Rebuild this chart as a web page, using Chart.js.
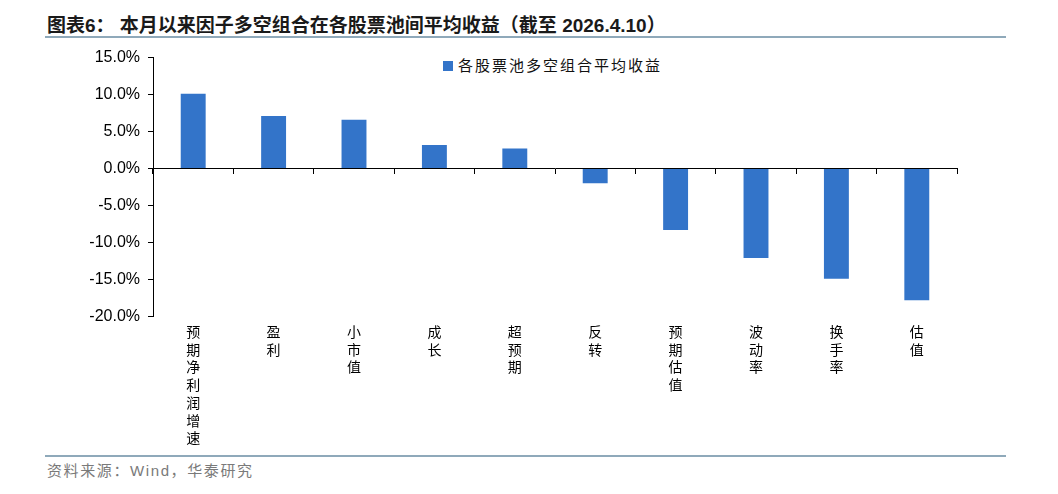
<!DOCTYPE html>
<html>
<head>
<meta charset="utf-8">
<script src="https://cdn.jsdelivr.net/npm/chart.js@4.4.1/dist/chart.umd.min.js"></script>
<style>
    body { margin: 0; background: #fff; width: 1058px; height: 494px; position: relative; overflow: hidden; }
    .title { position: absolute; left: 47px; top: 10px; font: bold 19px "Liberation Sans", "Noto Sans CJK SC", sans-serif; color: #1a1a1a; white-space: nowrap; }
    .rule { position: absolute; left: 45px; width: 961px; height: 2px; background: #8fa9ba; }
    .source { position: absolute; left: 47px; top: 459px; font: 15px "Liberation Sans", "Noto Sans CJK SC", sans-serif; color: #7a7a7a; letter-spacing: 1.6px; }
    .legend { position: absolute; left: 443px; top: 54px; font: 15px "Noto Sans CJK SC", sans-serif; color: #111; letter-spacing: 2px; white-space: nowrap; }
    .legend span { display: inline-block; width: 10px; height: 10px; background: #3374c9; margin-right: 5px; vertical-align: 0px; }
    #wrap { position: absolute; left: 0; top: 40px; width: 1058px; height: 413px; }
</style>
</head>
<body>
<div class="title">图表6： 本月以来因子多空组合在各股票池间平均收益（截至 2026.4.10）</div>
<div class="rule" style="top:36px"></div>
<div class="legend"><span></span>各股票池多空组合平均收益</div>
<div id="wrap"><canvas id="bar-chart"></canvas></div>
<div class="rule" style="top:455px"></div>
<div class="source">资料来源：Wind，华泰研究</div>
<script>
// factor long-short returns across stock pools, %
var categories = ['预期净利润增速', '盈利', '小市值', '成长', '超预期', '反转', '预期估值', '波动率', '换手率', '估值'];
var avgReturns = [10.1, 7.1, 6.6, 3.2, 2.7, -2.0, -8.3, -12.1, -14.9, -17.8];
var seriesName = '各股票池多空组合平均收益';
var yMin = -20, yMax = 15, yStep = 5;

var ctx = document.getElementById('bar-chart').getContext('2d');
new Chart(ctx, {
    type: 'bar',
    data: {
        labels: categories,
        datasets: [{
            label: seriesName,
            data: avgReturns,
            backgroundColor: '#3374c9',
            categoryPercentage: 1,
            barPercentage: 0.31
        }]
    },
    options: {
        responsive: true,
        maintainAspectRatio: false,
        animation: false,
        layout: { padding: { top: 17, right: 101, bottom: 0, left: 0 } },
        plugins: {
            legend: { display: false },
            tooltip: { enabled: false }
        },
        scales: {
            x: {
                position: { y: 0 },
                ticks: { display: false },
                grid: { drawOnChartArea: false, drawTicks: true, tickLength: 5, color: '#000' },
                border: { display: true, color: '#000', width: 1 }
            },
            xLabels: {
                type: 'category',
                labels: categories.map(function(c) { return c.split(''); }),
                position: 'bottom',
                grid: { display: false, drawTicks: false },
                border: { display: false },
                ticks: {
                    autoSkip: false,
                    maxRotation: 0,
                    padding: 6,
                    color: '#000',
                    font: { family: '"Noto Sans CJK SC", sans-serif', size: 14, lineHeight: 1.27 }
                }
            },
            y: {
                min: yMin,
                max: yMax,
                afterFit: function(scale) { scale.width = 153; },
                ticks: {
                    stepSize: yStep,
                    padding: 8,
                    color: '#000',
                    font: { family: '"Liberation Sans", Arial, sans-serif', size: 16 },
                    callback: function(v) { return v.toFixed(1) + '%'; }
                },
                grid: { drawOnChartArea: false, drawTicks: true, tickLength: 5, color: '#000' },
                border: { display: true, color: '#000', width: 1 }
            }
        }
    }
});
</script>
</body>
</html>
